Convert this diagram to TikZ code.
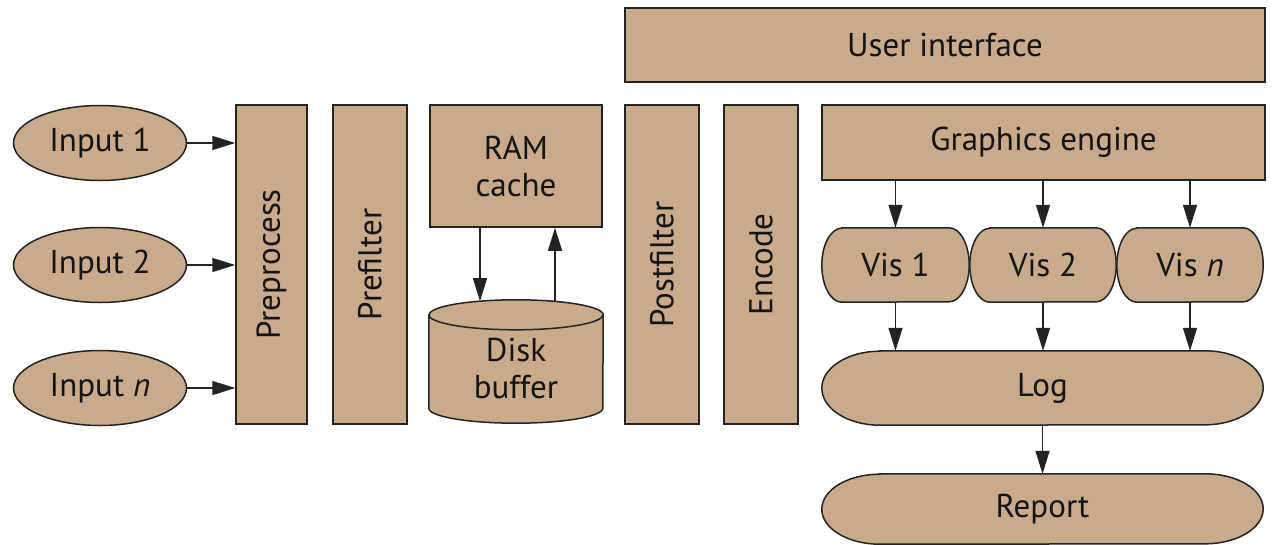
\documentclass[tikz,border=0pt]{standalone}
\usepackage{fontspec}
\setmainfont{PT Sans}
\usetikzlibrary{arrows.meta,calc,shapes.geometric,backgrounds}
\definecolor{tanfill}{RGB}{201,170,138}
\definecolor{edgec}{RGB}{35,35,35}
\definecolor{textc}{RGB}{20,20,20}
\newcommand\capsulepath[3]{%
  \filldraw[shp] ($(#1.north west)+(#2,0)$) -- ($(#1.north east)+(-#2,0)$)
    arc[start angle=90,end angle=-90,x radius=#2,y radius=#3]
    -- ($(#1.south west)+(#2,0)$)
    arc[start angle=270,end angle=90,x radius=#2,y radius=#3] -- cycle;}
\begin{document}
\begin{tikzpicture}[x=1pt,y=1pt,
  shp/.style={draw=edgec,fill=tanfill,line width=1.5pt},
  txt/.style={font=\fontsize{33}{37}\selectfont,text=textc,align=center,inner sep=0pt},
  box/.style={shp,txt,rectangle},
  ell/.style={shp,txt,ellipse,minimum width=173,minimum height=75},
  plain/.style={txt,rectangle},
  arr/.style={draw=edgec,line width=1.5pt,-{Triangle[length=23pt,width=14pt]}}]
\useasboundingbox (0,0) rectangle (1272,-544);
% top bar
\node[box,minimum width=640,minimum height=74] (ui) at (945,-45) {User interface};
% inputs
\node[ell] (in1) at (100,-143) {Input 1};
\node[ell] (in2) at (100,-265) {Input 2};
\node[ell] (inn) at (100,-388) {Input \textit{n}};
% vertical stages
\node[box,minimum width=71,minimum height=319] (pre) at (271.5,-264.5) {\rotatebox{90}{Preprocess}};
\node[box,minimum width=74,minimum height=319] (pref) at (370,-264.5) {\rotatebox{90}{Prefilter}};
\node[box,minimum width=172,minimum height=122] (ram) at (516,-166) {RAM\\cache};
\node[plain,minimum width=174,minimum height=108] (disk) at (516,-369) {Disk\\buffer};
\node[box,minimum width=74,minimum height=319] (post) at (662,-264.5) {\rotatebox{90}{Postfilter}};
\node[box,minimum width=74,minimum height=319] (enc) at (761,-264.5) {\rotatebox{90}{Encode}};
% right block
\node[box,minimum width=443,minimum height=75] (ge) at (1043.5,-142.5) {Graphics engine};
\node[plain,minimum width=147,minimum height=74] (vis1) at (895.5,-265) {Vis 1};
\node[plain,minimum width=146,minimum height=74] (vis2) at (1043,-265) {Vis 2};
\node[plain,minimum width=146,minimum height=74] (visn) at (1190,-265) {Vis \textit{n}};
\node[plain,minimum width=441,minimum height=74] (log) at (1042.5,-388) {Log};
\node[plain,minimum width=441,minimum height=70] (rep) at (1042.5,-509) {Report};
\begin{scope}[on background layer]
  \capsulepath{vis1}{20}{37}
  \capsulepath{vis2}{20}{37}
  \capsulepath{visn}{20}{37}
  \capsulepath{log}{58}{37}
  \capsulepath{rep}{58}{35}
  \filldraw[shp] (disk.north west) -- ($(disk.south west)+(0,15)$)
    arc[start angle=180,end angle=360,x radius=87,y radius=15]
    -- (disk.north east) arc[start angle=0,end angle=180,x radius=87,y radius=15] -- cycle;
  \draw[shp,fill=none] (disk.north west) arc[start angle=180,end angle=360,x radius=87,y radius=15];
\end{scope}
% connectors
\draw[arr] (in1.east) -- (pre.west |- in1.east);
\draw[arr] (in2.east) -- (pre.west |- in2.east);
\draw[arr] (inn.east) -- (pre.west |- inn.east);
\draw[arr] ($(ram.south)+(-36,0)$) -- ($(disk.north)+(-36,13.6)$);
\draw[arr] ($(disk.north)+(39,14)$) -- ($(ram.south)+(39,0)$);
\draw[arr] (vis1.north |- ge.south) -- (vis1.north);
\draw[arr] (vis2.north |- ge.south) -- (vis2.north);
\draw[arr] (visn.north |- ge.south) -- (visn.north);
\draw[arr] (vis1.south) -- (vis1.south |- log.north);
\draw[arr] (vis2.south) -- (vis2.south |- log.north);
\draw[arr] (visn.south) -- (visn.south |- log.north);
\draw[arr] (log.south) -- (rep.north);
\end{tikzpicture}
\end{document}
